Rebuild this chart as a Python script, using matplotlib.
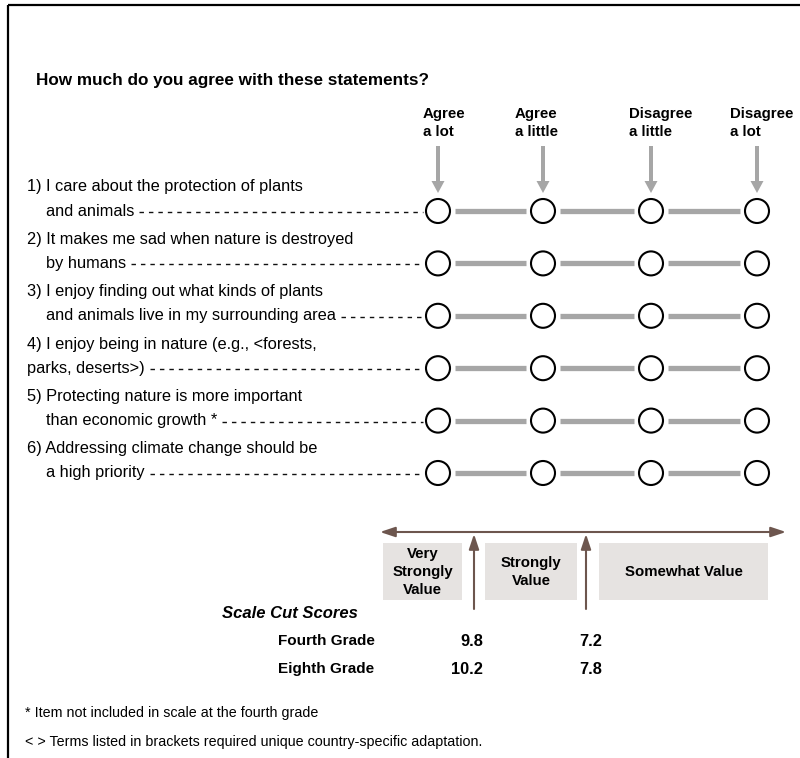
import matplotlib.pyplot as plt
from matplotlib.patches import Circle, Rectangle, FancyArrow

plt.rcParams['font.family'] = ['Liberation Sans', 'DejaVu Sans']

# Questionnaire content
title = 'How much do you agree with these statements?'
responses = ['Agree\na lot', 'Agree\na little', 'Disagree\na little', 'Disagree\na lot']
line1 = [
    '1) I care about the protection of plants',
    '2) It makes me sad when nature is destroyed',
    '3) I enjoy finding out what kinds of plants',
    '4) I enjoy being in nature (e.g., <forests,',
    '5) Protecting nature is more important',
    '6) Addressing climate change should be',
]
line2 = [
    'and animals',
    'by humans',
    'and animals live in my surrounding area',
    'parks, deserts>)',
    'than economic growth *',
    'a high priority',
]
indented = [True, True, True, False, True, True]

# Scale categories and cut scores
categories = ['Very\nStrongly\nValue', 'Strongly\nValue', 'Somewhat Value']
grades = ['Fourth Grade', 'Eighth Grade']
cut_very_strong = ['9.8', '10.2']
cut_strong = ['7.2', '7.8']
footnotes = ['* Item not included in scale at the fourth grade',
             '< > Terms listed in brackets required unique country-specific adaptation.']

gray = '#a6a6a6'
brown = '#6d564e'
boxc = '#e6e3e1'

fig = plt.figure(figsize=(8, 7.58), dpi=100)
ax = fig.add_axes([0, 0, 1, 1])
ax.set_xlim(0, 800)
ax.set_ylim(758, 0)
ax.axis('off')

# frame
ax.plot([8, 8], [5, 758], color='black', lw=1.6, solid_capstyle='butt')
ax.plot([8, 800], [5, 5], color='black', lw=1.6, solid_capstyle='butt')

ax.text(36, 80, title, fontsize=12.3, fontweight='bold', va='center', ha='left')

col_x = [438, 543, 651, 757]
head_x = [423, 515, 629, 730]
for hx, cx, lab in zip(head_x, col_x, responses):
    ax.text(hx, 123, lab, fontsize=10.8, fontweight='bold', ha='left', va='center',
            linespacing=1.45)
    ax.add_patch(FancyArrow(cx, 146, 0, 47, width=4, head_width=13, head_length=12,
                            length_includes_head=True, color=gray, lw=0))

row_y = [211 + 52.4 * i for i in range(len(line1))]
r = 12
fig.canvas.draw()
renderer = fig.canvas.get_renderer()
inv = ax.transData.inverted()
for y, a, b, ind in zip(row_y, line1, line2, indented):
    ax.text(27, y - 24, a, fontsize=11.8, ha='left', va='center')
    t = ax.text(46 if ind else 27, y, b, fontsize=11.8, ha='left', va='center')
    bb = t.get_window_extent(renderer)
    x_end = inv.transform((bb.x1, bb.y0))[0]
    ax.plot([x_end + 5, col_x[0] - r - 3], [y + 1, y + 1], color='#111111', lw=1,
            linestyle=(0, (3.2, 3.6)))
    for i in range(len(col_x) - 1):
        ax.plot([col_x[i] + r + 5, col_x[i + 1] - r - 5], [y, y], color=gray, lw=3.8,
                solid_capstyle='butt')
    for cx in col_x:
        ax.add_patch(Circle((cx, y), r, facecolor='white', edgecolor='black', lw=1.5))

# scale arrow and categories
ax.annotate('', xy=(380, 532), xytext=(786, 532),
            arrowprops=dict(arrowstyle='<|-|>,head_length=0.9,head_width=0.3',
                            color=brown, lw=1.5, shrinkA=0, shrinkB=0))
for ax_x in [474, 586]:
    ax.annotate('', xy=(ax_x, 534), xytext=(ax_x, 609),
                arrowprops=dict(arrowstyle='-|>,head_length=0.9,head_width=0.3',
                                color=brown, lw=1.5, shrinkA=0, shrinkB=0))

boxes = [(383, 79), (485, 92), (599, 169)]
for (bx, bw), lab in zip(boxes, categories):
    ax.add_patch(Rectangle((bx, 543), bw, 57, facecolor=boxc, edgecolor='none'))
    ax.text(bx + bw / 2, 572, lab, fontsize=10.8, fontweight='bold', ha='center',
            va='center', linespacing=1.4)

ax.text(358, 614, 'Scale Cut Scores', fontsize=12, fontweight='bold', style='italic',
        ha='right', va='center')
for i, g in enumerate(grades):
    y = 641 + 28 * i
    ax.text(278, y, g, fontsize=11, fontweight='bold', ha='left', va='center')
    ax.text(483, y, cut_very_strong[i], fontsize=11.8, fontweight='bold', ha='right', va='center')
    ax.text(602, y, cut_strong[i], fontsize=11.8, fontweight='bold', ha='right', va='center')

for i, f in enumerate(footnotes):
    ax.text(25, 713 + 29 * i, f, fontsize=10.3, ha='left', va='center')

plt.savefig('out.png', dpi=100)
